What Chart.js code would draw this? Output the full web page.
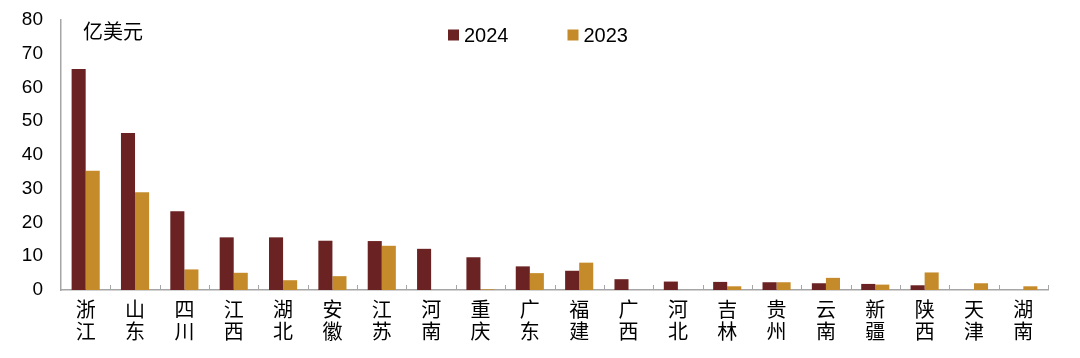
<!DOCTYPE html>
<html>
<head>
<meta charset="utf-8">
<script src="https://cdn.jsdelivr.net/npm/chart.js@4.4.1/dist/chart.umd.min.js"></script>
<style>
html,body{margin:0;padding:0;background:#fff;}
#wrap{width:1080px;height:358px;position:relative;}
</style>
</head>
<body>
<div id="wrap"><canvas id="c" width="1080" height="358"></canvas></div>
<script>
const categories = ["浙江","山东","四川","江西","湖北","安徽","江苏","河南","重庆","广东","福建","广西","河北","吉林","贵州","云南","新疆","陕西","天津","湖南"];
const values2024 = [65.5,46.5,23.3,15.6,15.6,14.6,14.5,12.2,9.7,7.0,5.7,3.2,2.5,2.4,2.3,2.0,1.8,1.4,0,0];
const values2023 = [35.3,29.0,6.1,5.1,2.9,4.1,13.1,0,0.2,5.0,8.1,0,0,1.1,2.3,3.6,1.6,5.2,2.0,1.1];
const seriesNames = ["2024","2023"];
const yTicks = [0,10,20,30,40,50,60,70,80];
const unitLabel = "亿美元";

const FONT = "'Liberation Sans','Noto Sans CJK SC',sans-serif";
const AXIS = "#a6a6a6";

const unitPlugin = {
  id: 'unitLabel',
  afterDraw(chart) {
    const {ctx, chartArea} = chart;
    ctx.save();
    ctx.font = "20px 'Noto Sans CJK SC'";
    ctx.fillStyle = "#000";
    ctx.textBaseline = "middle";
    ctx.fillText(unitLabel, chartArea.left + 22, chartArea.top + 11);
    ctx.restore();
  }
};

const legendPlugin = {
  id: 'customLegend',
  afterDraw(chart) {
    const {ctx, chartArea} = chart;
    ctx.save();
    ctx.font = "20px 'Liberation Sans'";
    ctx.textBaseline = "middle";
    let x = chartArea.left + 387;
    const cy = chartArea.top + 15;
    chart.data.datasets.forEach((d) => {
      ctx.fillStyle = d.backgroundColor;
      ctx.fillRect(x, cy - 5.5, 11, 11);
      x += 16;
      ctx.fillStyle = '#000';
      ctx.fillText(d.label, x, cy + 1);
      x += ctx.measureText(d.label).width + 59;
    });
    ctx.restore();
  }
};

const innerTicks = {
  id: 'innerTicks',
  afterDatasetsDraw(chart) {
    const x = chart.scales.x, {ctx, chartArea} = chart;
    ctx.save();
    ctx.strokeStyle = AXIS;
    ctx.lineWidth = 1;
    for (let i = 1; i <= categories.length; i++) {
      const px = Math.round(x.getPixelForValue(i - 0.5)) + 0.5;
      ctx.beginPath();
      ctx.moveTo(px, chartArea.bottom);
      ctx.lineTo(px, chartArea.bottom - 5);
      ctx.stroke();
    }
    ctx.restore();
  }
};

new Chart(document.getElementById('c'), {
  type: 'bar',
  data: {
    labels: categories.map(s => s.split('')),
    datasets: [
      {label: seriesNames[0], data: values2024, backgroundColor: '#6B2222', categoryPercentage: 0.57, barPercentage: 1.0},
      {label: seriesNames[1], data: values2023, backgroundColor: '#C58B2B', categoryPercentage: 0.57, barPercentage: 1.0}
    ]
  },
  options: {
    responsive: false,
    animation: false,
    layout: {padding: {left: 0, right: 32, top: 20, bottom: 0}},
    plugins: {
      tooltip: {enabled: false},
      legend: {display: false}
    },
    scales: {
      x: {
        grid: {display: false, drawTicks: false},
        border: {color: AXIS, width: 1.5},
        ticks: {color: '#000', font: {family: "'Noto Sans CJK SC'", size: 20, lineHeight: 1.1}, padding: 8, maxRotation: 0, autoSkip: false},
        afterFit(s) { s.height = 68; s.paddingLeft = 0; s.paddingRight = 0; }
      },
      y: {
        min: 0, max: 80,
        afterBuildTicks(s) { s.ticks = yTicks.map(v => ({value: v})); },
        grid: {display: false, drawTicks: false},
        border: {color: AXIS, width: 1.5},
        ticks: {color: '#000', font: {family: FONT, size: 19}, padding: 18},
        afterFit(s) { s.width = 61; s.paddingTop = 0; s.paddingBottom = 0; }
      }
    }
  },
  plugins: [unitPlugin, legendPlugin, innerTicks]
});
</script>
</body>
</html>
